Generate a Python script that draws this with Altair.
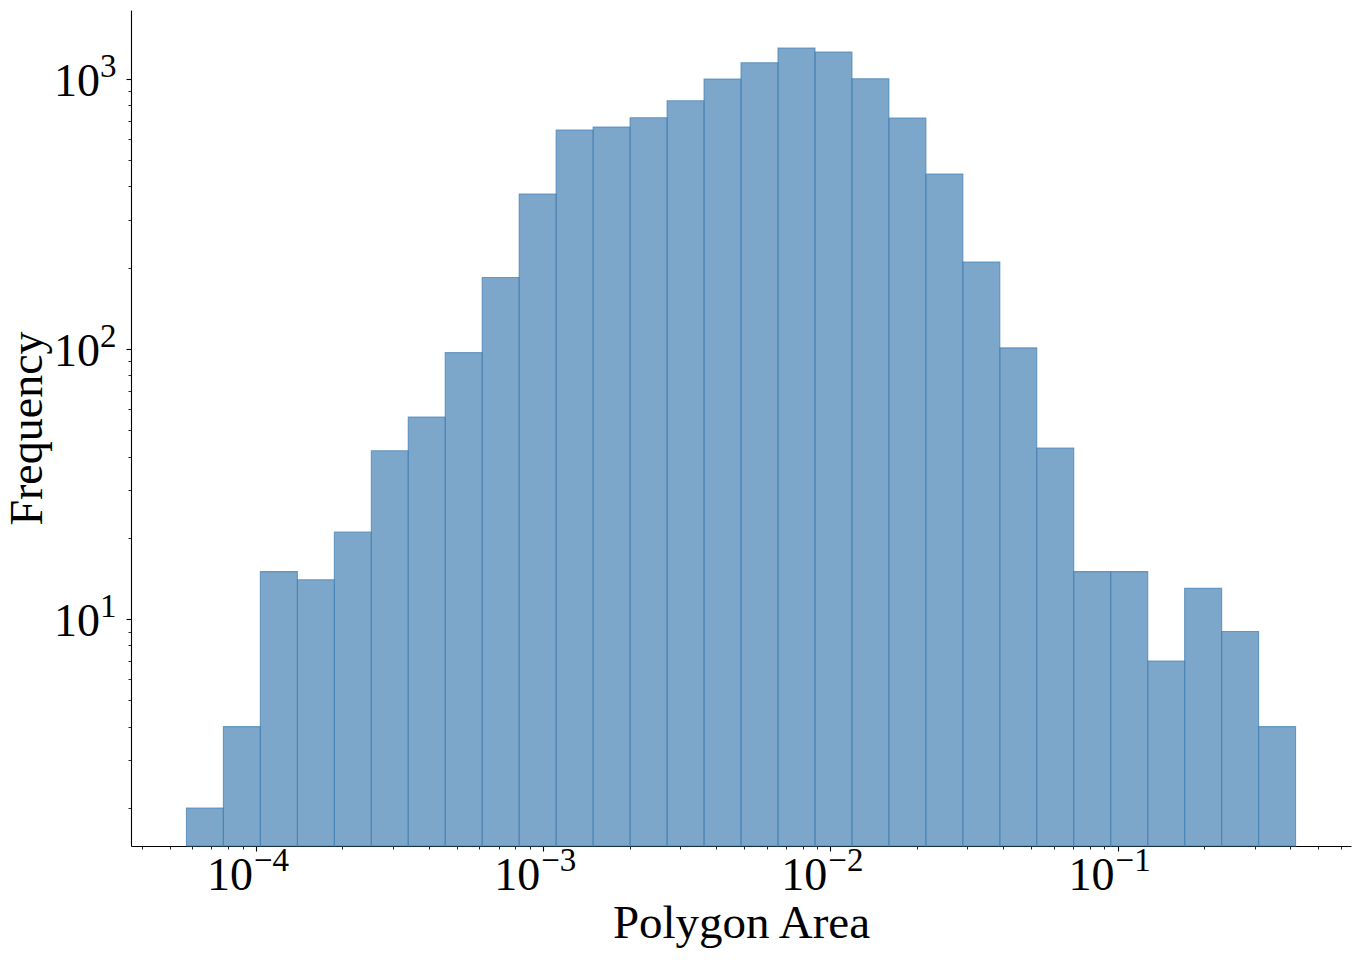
import altair as alt
import pandas as pd

# Histogram bins (log-spaced)
bin_left = [5.728e-5, 7.703e-5, 1.036e-4, 1.394e-4, 1.875e-4, 2.522e-4, 3.391e-4, 4.561e-4,
            6.135e-4, 8.253e-4, 1.110e-3, 1.493e-3, 2.008e-3, 2.702e-3, 3.634e-3, 4.887e-3,
            6.573e-3, 8.842e-3, 1.189e-2, 1.599e-2, 2.151e-2, 2.893e-2, 3.892e-2, 5.233e-2,
            7.038e-2, 9.469e-2, 0.1274, 0.1713, 0.2304, 0.3099]
bin_right = [7.703e-5, 1.036e-4, 1.394e-4, 1.875e-4, 2.522e-4, 3.391e-4, 4.561e-4, 6.135e-4,
             8.253e-4, 1.110e-3, 1.493e-3, 2.008e-3, 2.702e-3, 3.634e-3, 4.887e-3, 6.573e-3,
             8.842e-3, 1.189e-2, 1.599e-2, 2.151e-2, 2.893e-2, 3.892e-2, 5.233e-2, 7.038e-2,
             9.469e-2, 0.1274, 0.1713, 0.2304, 0.3099, 0.4168]
counts = [2, 4, 15, 14, 21, 42, 56, 97, 184, 375, 647, 664, 718, 830, 1000, 1148, 1302,
          1259, 1002, 717, 445, 210, 101, 43, 15, 15, 7, 13, 9, 4]

# Tick positions and labels
x_major = [1e-4, 1e-3, 1e-2, 1e-1]
x_major_base = ["10", "10", "10", "10"]
x_major_exp = ["−4", "−3", "−2", "−1"]
x_minor = [4e-5, 5e-5, 6e-5, 7e-5, 8e-5, 9e-5,
           2e-4, 3e-4, 4e-4, 5e-4, 6e-4, 7e-4, 8e-4, 9e-4,
           2e-3, 3e-3, 4e-3, 5e-3, 6e-3, 7e-3, 8e-3, 9e-3,
           2e-2, 3e-2, 4e-2, 5e-2, 6e-2, 7e-2, 8e-2, 9e-2,
           0.2, 0.3, 0.4, 0.5, 0.6]
y_major = [10, 100, 1000]
y_major_base = ["10", "10", "10"]
y_major_exp = ["1", "2", "3"]
y_minor = [2, 3, 4, 5, 6, 7, 8, 9, 20, 30, 40, 50, 60, 70, 80, 90,
           200, 300, 400, 500, 600, 700, 800, 900]

x_domain = [3.672e-5, 0.6501]
y_domain = [1.446, 1800]

df = pd.DataFrame({"left": bin_left, "right": bin_right, "count": counts})
xlab = pd.DataFrame({"v": x_major, "base": x_major_base, "exp": x_major_exp})
ylab = pd.DataFrame({"v": y_major, "base": y_major_base, "exp": y_major_exp})

FONT = "Liberation Serif"
BASE_SIZE = 46
EXP_SIZE = 33
x_scale = alt.Scale(type="log", domain=x_domain, nice=False)
y_scale = alt.Scale(type="log", domain=y_domain, nice=False)

bars = alt.Chart(df).mark_bar(
    fill="steelblue", fillOpacity=0.7, stroke="steelblue", strokeOpacity=0.75,
    strokeWidth=1.1
).encode(
    x=alt.X("left:Q", scale=x_scale,
            axis=alt.Axis(values=x_major, labels=False, title="Polygon Area",
                          orient="bottom", tickSize=5, tickWidth=1.1, domainWidth=1.1,
                          grid=False, tickColor="black", domainColor="black",
                          titleColor="black", titleFont=FONT, titleFontSize=47,
                          titleFontWeight="normal", titleBaseline="alphabetic",
                          titleY=91)),
    x2="right:Q",
    y=alt.Y("count:Q", scale=y_scale,
            axis=alt.Axis(values=y_major, labels=False, title="Frequency",
                          orient="left", tickSize=5, tickWidth=1.1, domainWidth=1.1,
                          grid=False, tickColor="black", domainColor="black",
                          titleColor="black", titleFont=FONT, titleFontSize=46,
                          titleFontWeight="normal", titleBaseline="alphabetic",
                          titleX=-90, titleY=418)),
    y2=alt.datum(y_domain[0]),
)

minor = alt.Chart(df).mark_bar(opacity=0).encode(
    x=alt.X("left:Q", scale=x_scale,
            axis=alt.Axis(values=x_minor, labels=False, title=None, domain=False,
                          orient="bottom", tickSize=3, tickWidth=0.85,
                          grid=False, tickColor="black")),
    x2="right:Q",
    y=alt.Y("count:Q", scale=y_scale,
            axis=alt.Axis(values=y_minor, labels=False, title=None, domain=False,
                          orient="left", tickSize=3, tickWidth=0.85,
                          grid=False, tickColor="black")),
    y2=alt.datum(y_domain[0]),
)

x_base = alt.Chart(xlab).mark_text(
    align="right", baseline="alphabetic", dx=-3, dy=44, font=FONT,
    fontSize=BASE_SIZE, color="black"
).encode(
    x=alt.X("v:Q", scale=x_scale, axis=None),
    y=alt.YDatum(y_domain[0], axis=None),
    text="base:N",
)
x_exp = alt.Chart(xlab).mark_text(
    align="left", baseline="alphabetic", dx=-2, dy=25, font=FONT,
    fontSize=EXP_SIZE, color="black"
).encode(
    x=alt.X("v:Q", scale=x_scale, axis=None),
    y=alt.YDatum(y_domain[0], axis=None),
    text="exp:N",
)
y_base = alt.Chart(ylab).mark_text(
    align="right", baseline="alphabetic", dx=-31, dy=17, font=FONT,
    fontSize=BASE_SIZE, color="black"
).encode(
    x=alt.XDatum(x_domain[0], axis=None),
    y=alt.Y("v:Q", scale=y_scale, axis=None),
    text="base:N",
)
y_exp = alt.Chart(ylab).mark_text(
    align="left", baseline="alphabetic", dx=-31, dy=-2, font=FONT,
    fontSize=EXP_SIZE, color="black"
).encode(
    x=alt.XDatum(x_domain[0], axis=None),
    y=alt.Y("v:Q", scale=y_scale, axis=None),
    text="exp:N",
)

chart = alt.layer(minor, bars, x_base, x_exp, y_base, y_exp).resolve_axis(
    x="independent", y="independent"
).properties(
    width=1220, height=836,
    autosize=alt.AutoSizeParams(type="none"),
    padding={"left": 131, "top": 10, "right": 9, "bottom": 114},
).configure_view(stroke=None)

chart.save("out.html", embed_options={"renderer": "svg", "actions": False})
